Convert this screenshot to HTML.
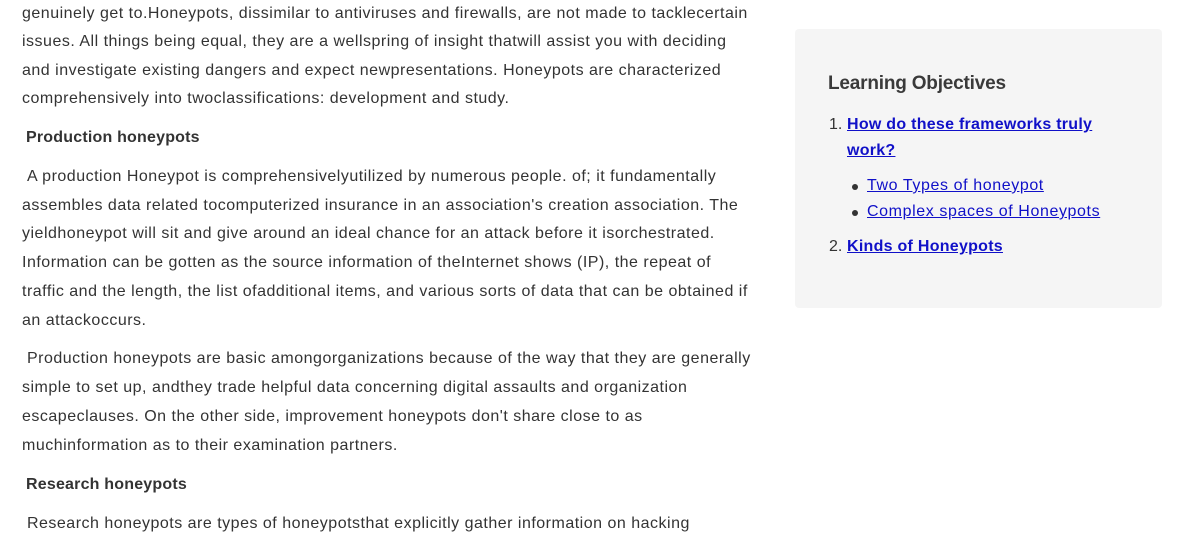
<!DOCTYPE html>
<html><head><meta charset="utf-8"><style>
body{margin:0;width:1203px;height:545px;background:#fff;overflow:hidden;position:relative;font-family:"Liberation Sans",sans-serif;color:#333;}
.l{position:absolute;left:22px;font-size:16px;white-space:nowrap;line-height:20px;letter-spacing:0.5px;margin-top:2px;}
.b{font-weight:bold;left:26px;letter-spacing:0.2px;}
.box{position:absolute;left:795px;top:29px;width:367px;height:279px;background:#f5f5f5;border-radius:4px;}
.s{position:absolute;white-space:nowrap;font-size:16px;line-height:20px;margin-top:2px;}
a{color:#1010c8;text-decoration:underline;}
.dot{position:absolute;width:6px;height:6px;border-radius:3px;background:#333;}
</style></head><body>
<div class="l" style="top:2px">genuinely get to.Honeypots, dissimilar to antiviruses and firewalls, are not made to tacklecertain</div>
<div class="l" style="top:30px">issues. All things being equal, they are a wellspring of insight thatwill assist you with deciding</div>
<div class="l" style="top:59px">and investigate existing dangers and expect newpresentations. Honeypots are characterized</div>
<div class="l" style="top:87px">comprehensively into twoclassifications: development and study.</div>
<div class="l b" style="top:126px">Production honeypots</div>
<div class="l" style="top:165px">&nbsp;A production Honeypot is comprehensivelyutilized by numerous people. of; it fundamentally</div>
<div class="l" style="top:194px">assembles data related tocomputerized insurance in an association's creation association. The</div>
<div class="l" style="top:222px">yieldhoneypot will sit and give around an ideal chance for an attack before it isorchestrated.</div>
<div class="l" style="top:251px">Information can be gotten as the source information of theInternet shows (IP), the repeat of</div>
<div class="l" style="top:280px">traffic and the length, the list ofadditional items, and various sorts of data that can be obtained if</div>
<div class="l" style="top:309px">an attackoccurs.</div>
<div class="l" style="top:347px">&nbsp;Production honeypots are basic amongorganizations because of the way that they are generally</div>
<div class="l" style="top:376px">simple to set up, andthey trade helpful data concerning digital assaults and organization</div>
<div class="l" style="top:405px">escapeclauses. On the other side, improvement honeypots don't share close to as</div>
<div class="l" style="top:434px">muchinformation as to their examination partners.</div>
<div class="l b" style="top:473px">Research honeypots</div>
<div class="l" style="top:512px">&nbsp;Research honeypots are types of honeypotsthat explicitly gather information on hacking</div>
<div class="box"></div>
<div class="s" style="left:828px;top:70px;font-size:19px;line-height:24px;font-weight:bold;color:#3a3a3a;letter-spacing:-0.2px">Learning Objectives</div>
<div class="s" style="left:829px;top:113px">1.</div>
<div class="s" style="left:847px;top:113px;font-weight:bold;letter-spacing:0.27px"><a>How do these frameworks truly</a></div>
<div class="s" style="left:847px;top:139px;font-weight:bold;letter-spacing:0.27px"><a>work?</a></div>
<div class="dot" style="left:852px;top:184px"></div>
<div class="s" style="left:867px;top:174px;letter-spacing:0.6px"><a>Two Types of honeypot</a></div>
<div class="dot" style="left:852px;top:210px"></div>
<div class="s" style="left:867px;top:200px;letter-spacing:0.6px"><a>Complex spaces of Honeypots</a></div>
<div class="s" style="left:829px;top:235px">2.</div>
<div class="s" style="left:847px;top:235px;font-weight:bold;letter-spacing:0.27px"><a>Kinds of Honeypots</a></div>
</body></html>
